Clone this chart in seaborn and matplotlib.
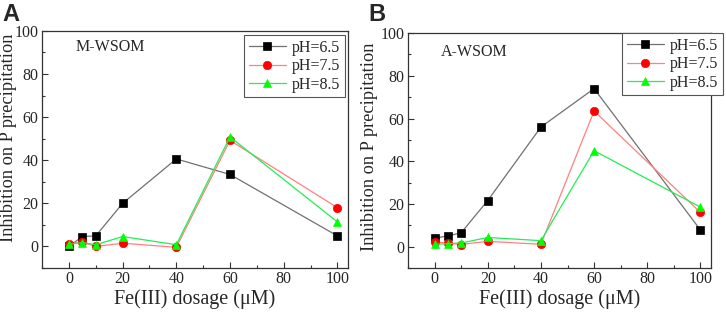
import pandas as pd
import seaborn as sns
from matplotlib import pyplot as plt
from matplotlib.ticker import MultipleLocator

# Fe(III) dosage (uM)
dosage = [0, 5, 10, 20, 40, 60, 100]

# Panel A: M-WSOM
m_ph65 = [0.0, 4.6, 4.9, 20.0, 40.6, 33.4, 4.9]
m_ph75 = [1.2, 2.0, 0.0, 1.5, -0.4, 49.2, 18.0]
m_ph85 = [1.0, 1.8, 0.8, 4.6, 0.8, 50.8, 11.4]

# Panel B: A-WSOM
a_ph65 = [4.0, 5.0, 6.5, 21.6, 56.0, 74.0, 7.8]
a_ph75 = [2.2, 1.7, 1.0, 2.5, 1.1, 63.5, 16.0]
a_ph85 = [1.1, 1.4, 1.7, 4.3, 2.8, 44.9, 18.5]

ph_labels = ['pH=6.5', 'pH=7.5', 'pH=8.5']
line_colors = ['#707070', '#ff8080', '#22ee55']
marker_colors = ['#000000', '#ff0000', '#00ff00']
markers = ['s', 'o', '^']

sns.set_style('ticks')
plt.rcParams['font.family'] = ['Liberation Serif', 'DejaVu Serif']

fig = plt.figure(figsize=(7.26, 3.12), dpi=100)
ax_a = fig.add_axes([0.058, 0.141, 0.4215, 0.760])
ax_b = fig.add_axes([0.562, 0.141, 0.4174, 0.753])


def draw_panel(ax, series, name, name_xy, letter, legend_anchor, ylab_xy):
    for vals, lab, lc, mc, mk in zip(series, ph_labels, line_colors, marker_colors, markers):
        df = pd.DataFrame({'dosage': dosage, 'inhibition': vals})
        sns.lineplot(
            data=df, x='dosage', y='inhibition', ax=ax,
            color=lc, linewidth=0.9, marker=mk, markersize=6,
            markerfacecolor=mc, markeredgecolor=mc, markeredgewidth=0.5,
            label=lab, legend=False,
        )
    ax.set_xlim(-10, 104)
    ax.set_ylim(-10, 100)
    ax.xaxis.set_major_locator(MultipleLocator(20))
    ax.xaxis.set_minor_locator(MultipleLocator(10))
    ax.yaxis.set_major_locator(MultipleLocator(20))
    ax.yaxis.set_minor_locator(MultipleLocator(10))
    ax.set_yticks([0, 20, 40, 60, 80, 100])
    ax.tick_params(which='major', direction='in', length=4, width=0.8,
                   labelsize=11.5, pad=2.5, color='#333333')
    ax.tick_params(which='minor', direction='in', length=2.5, width=0.8,
                   color='#333333')
    for sp in ax.spines.values():
        sp.set_linewidth(0.9)
        sp.set_color('#333333')
    ax.set_xlabel('Fe(III) dosage (\u03bcM)', fontsize=14.5, labelpad=1)
    ax.set_ylabel('Inhibition on P precipitation', fontsize=13.2)
    ax.yaxis.set_label_coords(*ylab_xy)
    ax.text(name_xy[0], name_xy[1], name, transform=ax.transAxes,
            fontsize=11.5, ha='left', va='center')
    leg = ax.legend(loc='upper right', bbox_to_anchor=legend_anchor,
                    fontsize=11.5, frameon=True, fancybox=False, framealpha=1,
                    edgecolor='#555555', borderaxespad=0, handlelength=2.3,
                    handletextpad=0.4, labelspacing=0.15, borderpad=0.3)
    leg.get_frame().set_linewidth(0.8)
    fig.text(ax.get_position().x0 - 0.054, 0.99, letter, fontsize=17,
             fontweight='bold', family='Liberation Sans', ha='left', va='top')


draw_panel(ax_a, [m_ph65, m_ph75, m_ph85], 'M-WSOM', (0.108, 0.932), 'A',
           (0.99, 0.983), (-0.083, 0.55))
draw_panel(ax_b, [a_ph65, a_ph75, a_ph85], 'A-WSOM', (0.109, 0.919), 'B',
           (1.04, 1.0), (-0.1, 0.515))

fig.savefig('out.png', dpi=100)
